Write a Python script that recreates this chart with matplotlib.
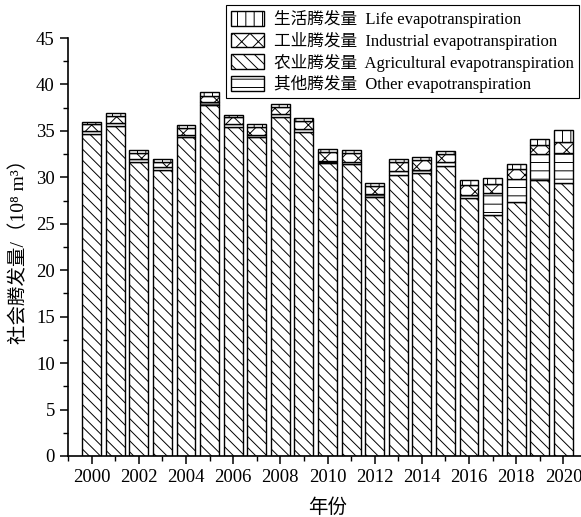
import numpy as np
import matplotlib
matplotlib.use('Agg')
import matplotlib.pyplot as plt
from matplotlib.patches import Patch

plt.rcParams['font.family'] = ['Liberation Serif', 'DejaVu Serif', 'Noto Sans CJK SC']
plt.rcParams['hatch.linewidth'] = 0.7

# 数据 (10^8 m3)
years = list(range(2000, 2021))
agricultural = [34.7, 35.5, 31.7, 30.8, 34.3, 37.75, 35.4, 34.3, 36.45, 34.9, 31.5,
                31.4, 27.9, 30.3, 30.45, 31.2, 27.8, 25.9, 27.3, 29.7, 29.35]
other = [0.3, 0.3, 0.3, 0.3, 0.3, 0.35, 0.3, 0.25, 0.35, 0.3, 0.3,
         0.3, 0.35, 0.35, 0.35, 0.4, 0.3, 2.45, 2.5, 2.8, 3.25]
industrial = [0.75, 0.8, 0.6, 0.6, 0.7, 0.7, 0.75, 0.85, 0.8, 0.85, 0.9,
              0.9, 0.8, 1.0, 1.05, 0.95, 1.1, 0.95, 1.05, 1.0, 1.2]
life = [0.25, 0.3, 0.3, 0.3, 0.3, 0.35, 0.3, 0.3, 0.3, 0.3, 0.3,
        0.3, 0.3, 0.3, 0.3, 0.3, 0.5, 0.6, 0.6, 0.65, 1.25]

labels = ['生活腾发量  Life evapotranspiration',
          '工业腾发量  Industrial evapotranspiration',
          '农业腾发量  Agricultural evapotranspiration',
          '其他腾发量  Other evapotranspiration']

fig = plt.figure(figsize=(5.81, 5.17), dpi=100)
ax = fig.add_axes([68 / 581, 1 - 456 / 517, 519 / 581, 418 / 517])

x = np.array(years)
w = 0.8
kw = dict(width=w, color='white', edgecolor='black', linewidth=1.0)

# 从下往上: 农业, 其他, 工业, 生活
b1 = np.array(agricultural)
b2 = b1 + np.array(other)
b3 = b2 + np.array(industrial)
ax.bar(x, agricultural, hatch='\\\\\\', **kw)
ax.bar(x, other, bottom=b1, hatch='--', **kw)
ax.bar(x, industrial, bottom=b2, hatch='xx', **kw)
ax.bar(x, life, bottom=b3, hatch='||', **kw)

ax.set_xlim(1999, 2021)
ax.set_ylim(0, 45)
ax.set_xticks(range(2000, 2021, 2))
ax.set_xticks(range(1999, 2022), minor=True)
ax.set_yticks(range(0, 46, 5))
ax.set_yticks(np.arange(0, 45.1, 2.5), minor=True)
ax.tick_params(which='major', direction='out', length=6, width=1.1, labelsize=13.5)
ax.tick_params(which='minor', direction='out', length=3.5, width=1.0)

for s in ['top', 'right']:
    ax.spines[s].set_visible(False)
for s in ['left', 'bottom']:
    ax.spines[s].set_linewidth(1.2)

ax.set_xlabel('年份', fontsize=14, labelpad=9)
ax.set_ylabel('社会腾发量/（10⁸ m³）', fontsize=14, labelpad=6)

# 图例
handles = [Patch(facecolor='white', edgecolor='black', hatch='||'),
           Patch(facecolor='white', edgecolor='black', hatch='xx'),
           Patch(facecolor='white', edgecolor='black', hatch='\\\\\\'),
           Patch(facecolor='white', edgecolor='black', hatch='--')]
leg = fig.legend(handles, labels, loc='upper right',
                 bbox_to_anchor=(579 / 581, 1 - 5 / 517),
                 fontsize=12, fancybox=False, framealpha=1, edgecolor='black',
                 handlelength=2.0, handleheight=1.0, labelspacing=0.22,
                 handletextpad=0.6, borderpad=0.3, borderaxespad=0)
leg.get_frame().set_linewidth(0.8)

fig.savefig('out.png', dpi=100)
